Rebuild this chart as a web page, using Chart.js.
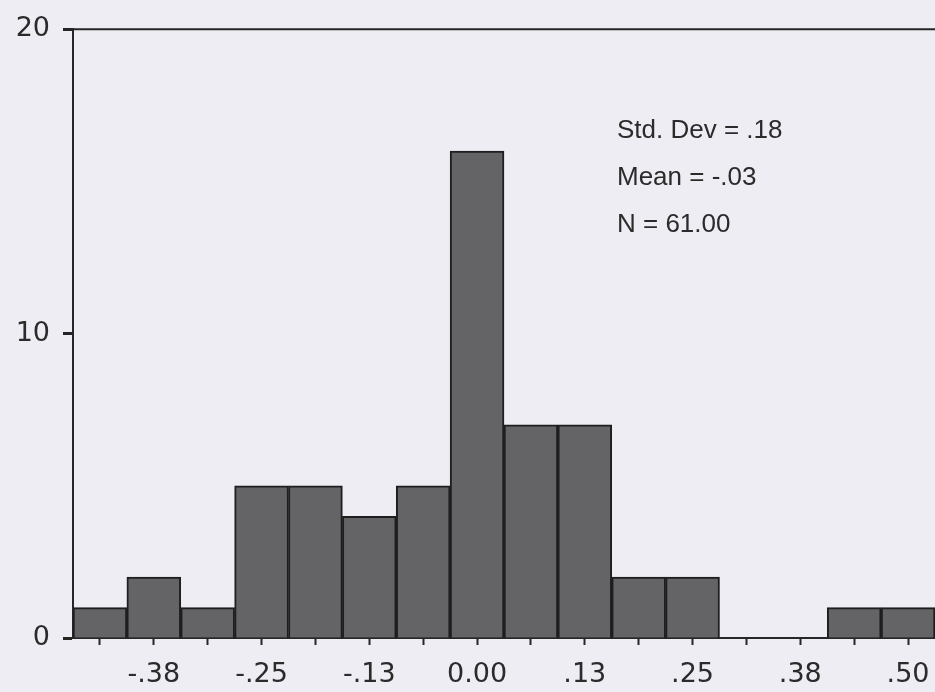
<!DOCTYPE html>
<html>
<head>
<meta charset="utf-8">
<script src="https://cdn.jsdelivr.net/npm/chart.js@4"></script>
<style>
    html, body { margin: 0; padding: 0; background: #ededf3; overflow: hidden; }
    .wrap { position: relative; width: 935px; height: 692px; }
    .stats {
        position: absolute; left: 617px; top: 106px;
        font-family: "Liberation Sans", Arial, sans-serif;
        font-size: 26px; color: #2b2b2b; line-height: 47px;
    }
</style>
</head>
<body>
<div class="wrap">
    <canvas id="histogramChart" width="935" height="692"></canvas>
    <div class="stats">
        <div>Std. Dev = .18</div>
        <div>Mean = -.03</div>
        <div>N = 61.00</div>
    </div>
</div>
<script>
// bin labels (only every other bin is labelled)
const binLabels = ['', '-.38', '', '-.25', '', '-.13', '', '0.00', '', '.13', '', '.25', '', '.38', '', '.50'];
// frequency of each bin
const counts = [1, 2, 1, 5, 5, 4, 5, 16, 7, 7, 2, 2, 0, 0, 1, 1];
const yTicks = [0, 10, 20];

const axisColor = '#262626';
const barColor = 'rgb(100, 100, 102)';
const font = { family: '"DejaVu Sans", sans-serif', size: 27 };

// top frame line of the plot box
const frameTop = {
    id: 'frameTop',
    afterDraw(chart) {
        const { ctx, chartArea } = chart;
        ctx.save();
        ctx.strokeStyle = axisColor;
        ctx.lineWidth = 2;
        ctx.beginPath();
        ctx.moveTo(chartArea.left, chartArea.top);
        ctx.lineTo(chartArea.right, chartArea.top);
        ctx.stroke();
        ctx.restore();
    }
};

const ctx = document.getElementById('histogramChart').getContext('2d');
new Chart(ctx, {
    type: 'bar',
    data: {
        labels: binLabels,
        datasets: [{
            data: counts,
            backgroundColor: barColor,
            borderColor: '#1e1e1e',
            borderWidth: 2,
            barPercentage: 1,
            categoryPercentage: 1,
        }]
    },
    options: {
        responsive: false,
        animation: false,
        layout: { padding: { top: 28, right: 0, left: 0, bottom: 0 } },
        plugins: {
            legend: { display: false },
            tooltip: { enabled: false },
        },
        scales: {
            x: {
                afterFit: (scale) => {
                    scale.height = 54;
                    scale.paddingRight = 0;
                    scale.paddingLeft = 0;
                },
                grid: {
                    offset: false,
                    drawOnChartArea: false,
                    tickLength: 7,
                    tickWidth: 2,
                    color: axisColor,
                },
                border: { color: axisColor, width: 2 },
                ticks: {
                    autoSkip: false,
                    maxRotation: 0,
                    padding: 14,
                    color: '#2b2b2b',
                    font: font,
                },
            },
            y: {
                min: 0,
                max: 20,
                afterFit: (scale) => { scale.width = 73; },
                afterBuildTicks: (scale) => { scale.ticks = yTicks.map(v => ({ value: v })); },
                grid: {
                    drawOnChartArea: false,
                    tickLength: 10,
                    tickWidth: 3,
                    color: axisColor,
                },
                border: { color: axisColor, width: 2 },
                ticks: {
                    padding: 13,
                    color: '#2b2b2b',
                    font: font,
                },
            }
        }
    },
    plugins: [frameTop],
});
</script>
</body>
</html>
